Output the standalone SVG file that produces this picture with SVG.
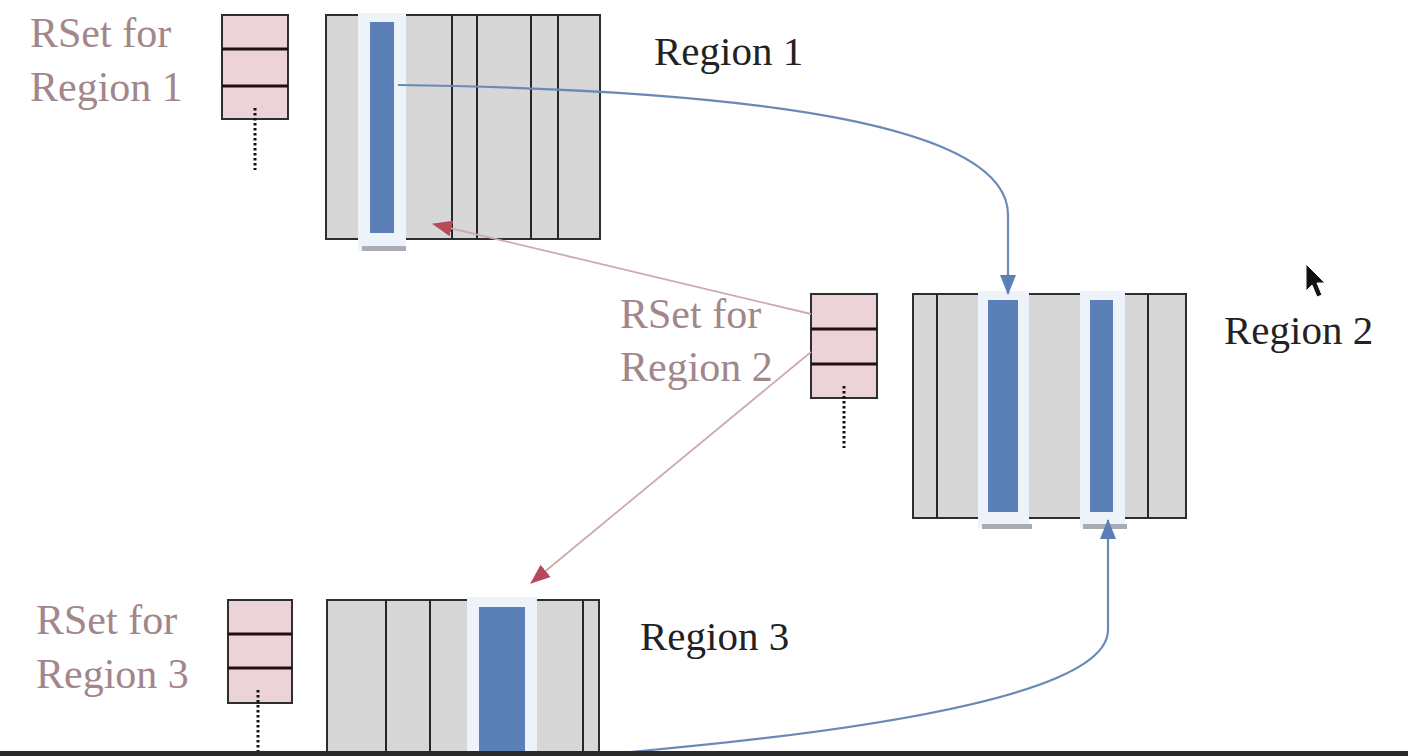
<svg xmlns="http://www.w3.org/2000/svg" width="1408" height="756" viewBox="0 0 1408 756">
<defs>
<style>
.reg{fill:#d7d7d7;stroke:#2e2e2e;stroke-width:2}
.div{stroke:#262626;stroke-width:2}
.hl{fill:#eef3fa}
.hlb{fill:#a9acb2}
.bar{fill:#5b80b8}
.rs{fill:#ecd3d7;stroke:#2e2e2e;stroke-width:2}
.rsd{stroke:#1e1010;stroke-width:3}
.dot{stroke:#111;stroke-width:3;stroke-dasharray:2.5 2.5}
.lbl{font-family:"Liberation Serif",serif;font-size:41px;fill:#222}
.rsl{font-family:"Liberation Serif",serif;font-size:42px;fill:#a2868a}
.blue{fill:none;stroke:#6a8ab5;stroke-width:2.2}
.red{fill:none;stroke:#cdaaae;stroke-width:1.8}
</style>
<marker id="ab" markerWidth="20" markerHeight="16" refX="19" refY="8" orient="auto" markerUnits="userSpaceOnUse" viewBox="0 0 20 16">
<path d="M0,0 L20,8 L0,16 Z" fill="#5b80b8"/>
</marker>
<marker id="ar" markerWidth="20" markerHeight="16" refX="19" refY="8" orient="auto" markerUnits="userSpaceOnUse" viewBox="0 0 20 16">
<path d="M0,0 L20,8 L0,16 Z" fill="#b8485a"/>
</marker>
</defs>
<rect width="1408" height="756" fill="#ffffff"/>

<g id="rset1">
<rect class="rs" x="222" y="15" width="66" height="104"/>
<line class="rsd" x1="222" y1="49" x2="288" y2="49"/>
<line class="rsd" x1="222" y1="86" x2="288" y2="86"/>
<line class="dot" x1="255" y1="108" x2="255" y2="170"/>
<text class="rsl" x="30" y="47">RSet for</text>
<text class="rsl" x="30" y="101">Region 1</text>
</g>

<g id="region1">
<rect class="reg" x="326" y="15" width="274" height="224"/>
<line class="div" x1="452" y1="15" x2="452" y2="239"/>
<line class="div" x1="477" y1="15" x2="477" y2="239"/>
<line class="div" x1="531" y1="15" x2="531" y2="239"/>
<line class="div" x1="558" y1="15" x2="558" y2="239"/>
<rect class="hl" x="358" y="13" width="48" height="238"/>
<rect class="hlb" x="362" y="246" width="44" height="5"/>
<rect class="bar" x="370" y="22" width="24" height="211"/>
<text class="lbl" x="654" y="65">Region 1</text>
</g>

<g id="rset2">
<rect class="rs" x="811" y="294" width="66" height="104"/>
<line class="rsd" x1="811" y1="329" x2="877" y2="329"/>
<line class="rsd" x1="811" y1="364" x2="877" y2="364"/>
<line class="dot" x1="844" y1="386" x2="844" y2="448"/>
<text class="rsl" x="620" y="328">RSet for</text>
<text class="rsl" x="620" y="381">Region 2</text>
</g>

<g id="region2">
<rect class="reg" x="913" y="294" width="273" height="224"/>
<line class="div" x1="937" y1="294" x2="937" y2="518"/>
<line class="div" x1="1148" y1="294" x2="1148" y2="518"/>
<rect class="hl" x="978" y="291" width="51" height="237"/>
<rect class="hl" x="1080" y="291" width="45" height="237"/>
<rect class="hlb" x="982" y="524" width="50" height="5"/>
<rect class="hlb" x="1083" y="524" width="44" height="5"/>
<rect class="bar" x="988" y="300" width="30" height="212"/>
<rect class="bar" x="1090" y="300" width="23" height="212"/>
<text class="lbl" x="1224" y="344">Region 2</text>
</g>

<g id="rset3">
<rect class="rs" x="228" y="600" width="64" height="103"/>
<line class="rsd" x1="228" y1="634" x2="292" y2="634"/>
<line class="rsd" x1="228" y1="668" x2="292" y2="668"/>
<line class="dot" x1="258" y1="690" x2="258" y2="752"/>
<text class="rsl" x="36" y="634">RSet for</text>
<text class="rsl" x="36" y="688">Region 3</text>
</g>

<g id="region3">
<rect class="reg" x="327" y="600" width="272" height="180"/>
<line class="div" x1="386" y1="600" x2="386" y2="760"/>
<line class="div" x1="430" y1="600" x2="430" y2="760"/>
<line class="div" x1="583" y1="600" x2="583" y2="760"/>
<rect class="hl" x="467" y="597" width="70" height="160"/>
<rect class="bar" x="479" y="607" width="46" height="150"/>
<text class="lbl" x="640" y="650">Region 3</text>
</g>

<g id="connectors">
<path class="blue" d="M398,85 C 760,90 1008,125 1008,215 L1008,294" marker-end="url(#ab)"/>
<path class="blue" d="M630,752 C 900,728 1108,690 1108,630 L1108,520" marker-end="url(#ab)"/>
<path class="red" d="M811,314 L433,224" marker-end="url(#ar)"/>
<path class="red" d="M811,352 L531,583" marker-end="url(#ar)"/>
</g>

<rect x="0" y="751" width="1408" height="5" fill="#2a2a2a"/>
<path d="M1306,264 L1306,291 L1312,285 L1317,297 L1322,295 L1317,283 L1325,283 Z" fill="#111" stroke="#fff" stroke-width="1"/>
</svg>
